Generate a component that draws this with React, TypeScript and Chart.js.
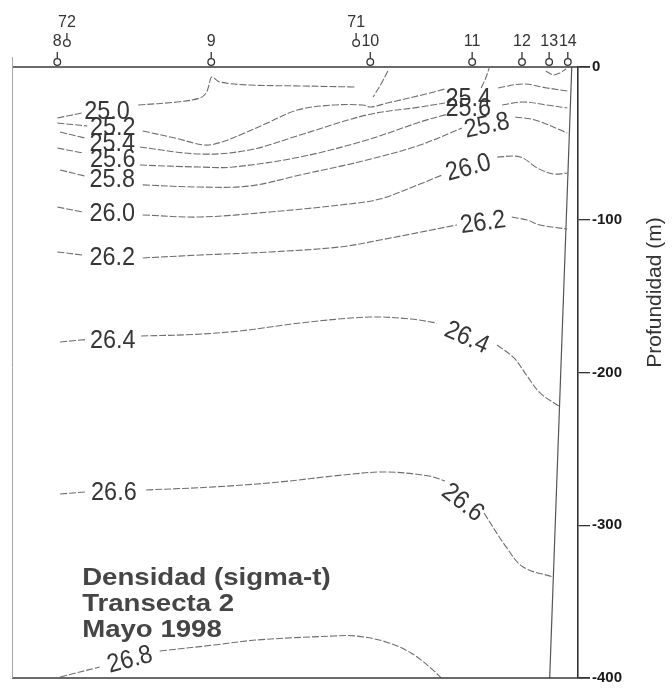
import { useEffect, useRef } from 'react';
import { Chart, registerables } from 'chart.js';

Chart.register(...registerables);

// ---------- data ----------
const depthTicks = [0, 100, 200, 300, 400];

const stationNames = ['8', '72', '9', '71', '10', '11', '12', '13', '14'];
const stationDistance = [8.0, 9.7, 35.2, 60.8, 63.3, 81.3, 90.1, 94.9, 98.2];
const stationRow = [0, 1, 0, 1, 0, 0, 0, 0, 0];

type P = [number, number] | null;

// isopycnals: [distance, depth], null = gap where the label sits
const c250: P[] = [[8.0, 33.4], [12.4, 30.1], null, [22.3, 24.9], [29.2, 22.9], [33.2, 20.3], [34.3, 17.0], [34.8, 11.8], [35.3, 6.5], [36.7, 9.8], [42.0, 11.8], [50.9, 12.4], [60.6, 13.1]];
const c250b: P[] = [[66.4, 2.6], [65.2, 11.1], [63.8, 19.6]];
const c250c: P[] = [[94.3, 2.6], [95.6, 5.2], [96.8, 3.9], [97.9, 1.3]];
const c252: P[] = [[8.0, 36.7], [13.3, 38.6], null, [23.1, 41.9], [28.8, 46.5], [34.1, 51.1], [37.1, 49.1], [40.3, 44.5], [45.1, 36.7], [50.4, 28.2], [56.7, 24.9], [62.0, 24.9], [63.3, 26.2], [66.3, 23.6], [73.9, 17.0], [76.5, 14.4], null, [82.9, 13.7], [83.7, 7.2], [84.3, 0.7]];
const c254: P[] = [[8.5, 42.6], [12.9, 46.5], null, [22.6, 52.4], [33.2, 57.0], [42.0, 54.3], [50.9, 44.5], [62.7, 31.4], [72.1, 26.2], [76.5, 23.6], null, [85.9, 13.7], [90.3, 11.1], [94.5, 13.7], [98.1, 15.7]];
const c256: P[] = [[8.0, 53.0], [12.5, 56.3], null, [22.6, 64.2], [33.2, 65.5], [39.0, 65.5], [50.9, 58.9], [62.7, 47.8], [72.1, 36.0], [77.0, 30.8], null, [86.6, 24.9], [90.3, 22.9], [94.5, 24.9], [98.1, 26.8]];
const c258: P[] = [[8.5, 67.4], [12.9, 71.4], null, [23.1, 77.2], [33.2, 78.6], [42.0, 77.9], [50.9, 70.7], [62.7, 60.9], [72.1, 51.1], [79.5, 39.9], null, [88.9, 32.7], [92.4, 34.7], [98.1, 43.2]];
const c260: P[] = [[8.0, 91.7], [12.5, 94.9], null, [23.1, 96.9], [33.2, 98.2], [45.6, 94.9], [58.0, 90.3], [65.0, 86.4], [72.1, 76.6], [76.0, 70.7], null, [85.7, 58.9], [89.8, 58.9], [92.8, 66.1], [95.6, 70.0], [98.2, 69.4]];
const c262: P[] = [[8.0, 121.1], [12.5, 123.1], null, [23.1, 125.0], [33.2, 123.1], [45.6, 121.1], [58.0, 117.8], [65.0, 113.3], [78.6, 103.4], null, [88.3, 98.2], [91.0, 100.2], [93.3, 103.4], [98.1, 106.1]];
const c264: P[] = [[8.5, 180.0], [13.1, 178.4], null, [22.8, 176.1], [32.0, 175.1], [40.3, 172.8], [50.9, 167.6], [63.1, 163.7], [70.5, 165.0], [75.1, 167.6], null, [85.7, 182.0], [88.7, 190.5], [91.0, 202.3], [93.3, 213.4], [96.6, 221.9]];
const c266: P[] = [[8.5, 279.5], [13.1, 278.2], null, [23.7, 276.9], [35.7, 274.9], [47.2, 271.7], [58.5, 267.1], [66.1, 265.1], [73.7, 267.8], [76.5, 271.0], null, [83.4, 292.0], [87.3, 314.2], [90.3, 327.3], [95.6, 333.9]];
const c268: P[] = [[8.5, 399.3], [15.5, 392.8], null, [26.1, 382.3], [35.7, 378.4], [43.3, 375.1], [56.9, 372.5], [60.8, 372.5], [66.1, 376.4], [70.5, 383.6], [74.4, 394.8], [75.8, 400]];

const shelfDistance = [98.9, 95.0];
const shelfDepth = [0, 400];

const labelText = ['25.0', '25.2', '25.4', '25.6', '25.8', '26.0', '26.2', '26.4', '26.6', '26.8', '25.4', '25.6', '25.8', '26.0', '26.2', '26.4', '26.6'];
const labelDistance = [16.8, 17.8, 17.7, 17.8, 17.7, 17.7, 17.7, 17.8, 18.0, 20.8, 80.6, 80.6, 83.9, 80.6, 83.2, 80.4, 79.7];
const labelDepth = [28.8, 39.3, 49.8, 60.2, 73.3, 95.6, 124.4, 178.7, 278.2, 387.6, 20.3, 26.8, 38.0, 65.5, 101.5, 176.8, 284.8];
const labelAngle = [0, 0, 0, 0, 0, 0, 0, 0, 0, -15, 0, 0, -12, -15, -8, 24, 38];

const titleLines = ['Densidad (sigma-t)', 'Transecta 2', 'Mayo 1998'];
const titleDistance = 12.4;
const titleDepth = 334.5;
const axisTitle = 'Profundidad (m)';

const contourSeries: P[][] = [c250, c250b, c250c, c252, c254, c256, c258, c260, c262, c264, c266, c268];

const FONT = '"Liberation Sans", Arial, Helvetica, sans-serif';

function toXY(arr: P[]) {
  const out: { x: number; y: number | null }[] = [];
  let lastX = 0;
  for (const p of arr) {
    if (p === null) out.push({ x: lastX, y: null });
    else {
      lastX = p[0];
      out.push({ x: p[0], y: p[1] });
    }
  }
  return out;
}

const overlay = {
  id: 'overlay',
  afterDatasetsDraw(chart: any) {
    const { ctx, chartArea: a, scales } = chart;
    const xs = scales.x;
    const ys = scales.y;
    ctx.save();
    // frame
    ctx.strokeStyle = '#3a3a3a';
    ctx.lineWidth = 1.5;
    ctx.beginPath();
    ctx.moveTo(a.left, a.top);
    ctx.lineTo(a.right + 12, a.top);
    ctx.moveTo(a.left, a.bottom);
    ctx.lineTo(a.right + 12, a.bottom);
    ctx.stroke();
    ctx.strokeStyle = '#a8a8a8';
    ctx.lineWidth = 1;
    ctx.beginPath();
    ctx.moveTo(a.left + 0.5, a.top - 10);
    ctx.lineTo(a.left + 0.5, a.bottom);
    ctx.stroke();

    // stations
    ctx.font = `16px ${FONT}`;
    ctx.textAlign = 'center';
    ctx.textBaseline = 'middle';
    stationNames.forEach((name, i) => {
      const px = xs.getPixelForValue(stationDistance[i]);
      const lift = stationRow[i] === 1 ? 19 : 0;
      const cy = a.top - 5 - lift;
      ctx.strokeStyle = '#333';
      ctx.lineWidth = 1.3;
      ctx.beginPath();
      ctx.moveTo(px, cy - 10);
      ctx.lineTo(px, cy - 4);
      ctx.stroke();
      ctx.beginPath();
      ctx.arc(px, cy, 3.3, 0, Math.PI * 2);
      ctx.fillStyle = '#fff';
      ctx.fill();
      ctx.stroke();
      ctx.fillStyle = '#333';
      ctx.fillText(name, px, cy - 20);
    });

    // contour labels
    labelText.forEach((t, i) => {
      const px = xs.getPixelForValue(labelDistance[i]);
      const py = ys.getPixelForValue(labelDepth[i]);
      ctx.save();
      ctx.translate(px, py);
      ctx.rotate((labelAngle[i] * Math.PI) / 180);
      ctx.scale(0.9, 1);
      ctx.font = `26px ${FONT}`;
      ctx.fillStyle = '#363636';
      ctx.textAlign = 'center';
      ctx.textBaseline = 'middle';
      ctx.fillText(t, 0, 1);
      ctx.restore();
    });

    // title block
    const tx = xs.getPixelForValue(titleDistance);
    const ty = ys.getPixelForValue(titleDepth);
    ctx.fillStyle = '#454545';
    ctx.textAlign = 'left';
    ctx.textBaseline = 'middle';
    titleLines.forEach((line, i) => {
      ctx.save();
      ctx.translate(tx, ty + i * 26);
      ctx.scale(1.15, 1);
      ctx.font = `bold 24px ${FONT}`;
      ctx.fillText(line, 0, 0);
      ctx.restore();
    });

    // axis title
    ctx.save();
    ctx.translate(a.right + 77, (a.top + a.bottom) / 2 - 80);
    ctx.rotate(-Math.PI / 2);
    ctx.font = `21px ${FONT}`;
    ctx.fillStyle = '#333';
    ctx.textAlign = 'center';
    ctx.textBaseline = 'middle';
    ctx.fillText(axisTitle, 0, 0);
    ctx.restore();

    ctx.restore();
  },
};

export default function App() {
  const ref = useRef<HTMLCanvasElement | null>(null);
  useEffect(() => {
    document.body.style.margin = '0';
    const canvas = ref.current;
    if (!canvas) return;
    const datasets: any[] = contourSeries.map((s) => ({
      data: toXY(s),
      borderColor: '#6e6e6e',
      borderWidth: 1.1,
      borderDash: [7, 2],
      pointRadius: 0,
      tension: 0.35,
      spanGaps: false,
      fill: false,
    }));
    datasets.push({
      data: shelfDistance.map((d, i) => ({ x: d, y: shelfDepth[i] })),
      borderColor: '#555',
      borderWidth: 1.2,
      pointRadius: 0,
      tension: 0,
      fill: false,
    });
    const chart = new Chart(canvas, {
      type: 'line',
      data: { datasets },
      options: {
        animation: false,
        responsive: false,
        maintainAspectRatio: false,
        devicePixelRatio: 1,
        layout: { padding: { left: 12, top: 67, right: 0, bottom: 16 } },
        plugins: { legend: { display: false }, tooltip: { enabled: false } },
        scales: {
          x: { type: 'linear', min: 0, max: 100, display: false },
          y: {
            type: 'linear',
            position: 'right',
            reverse: true,
            min: 0,
            max: 400,
            afterFit: (s: any) => {
              s.width = 94;
            },
            afterBuildTicks: (s: any) => {
              s.ticks = depthTicks.map((v) => ({ value: v }));
            },
            border: { display: true, color: '#333', width: 1.6 },
            grid: { drawOnChartArea: false, drawTicks: true, tickLength: 12, color: '#333', lineWidth: 1.3 },
            ticks: {
              padding: 2,
              color: '#1a1a1a',
              font: { family: FONT, size: 15, weight: 'bold' },
              callback: (v: any) => (Number(v) === 0 ? '0' : '-' + v),
            },
          },
        },
      },
      plugins: [overlay],
    });
    return () => chart.destroy();
  }, []);
  return (
    <div style={{ width: 672, height: 694 }}>
      <canvas ref={ref} width={672} height={694} style={{ display: 'block', width: 672, height: 694 }} />
    </div>
  );
}
